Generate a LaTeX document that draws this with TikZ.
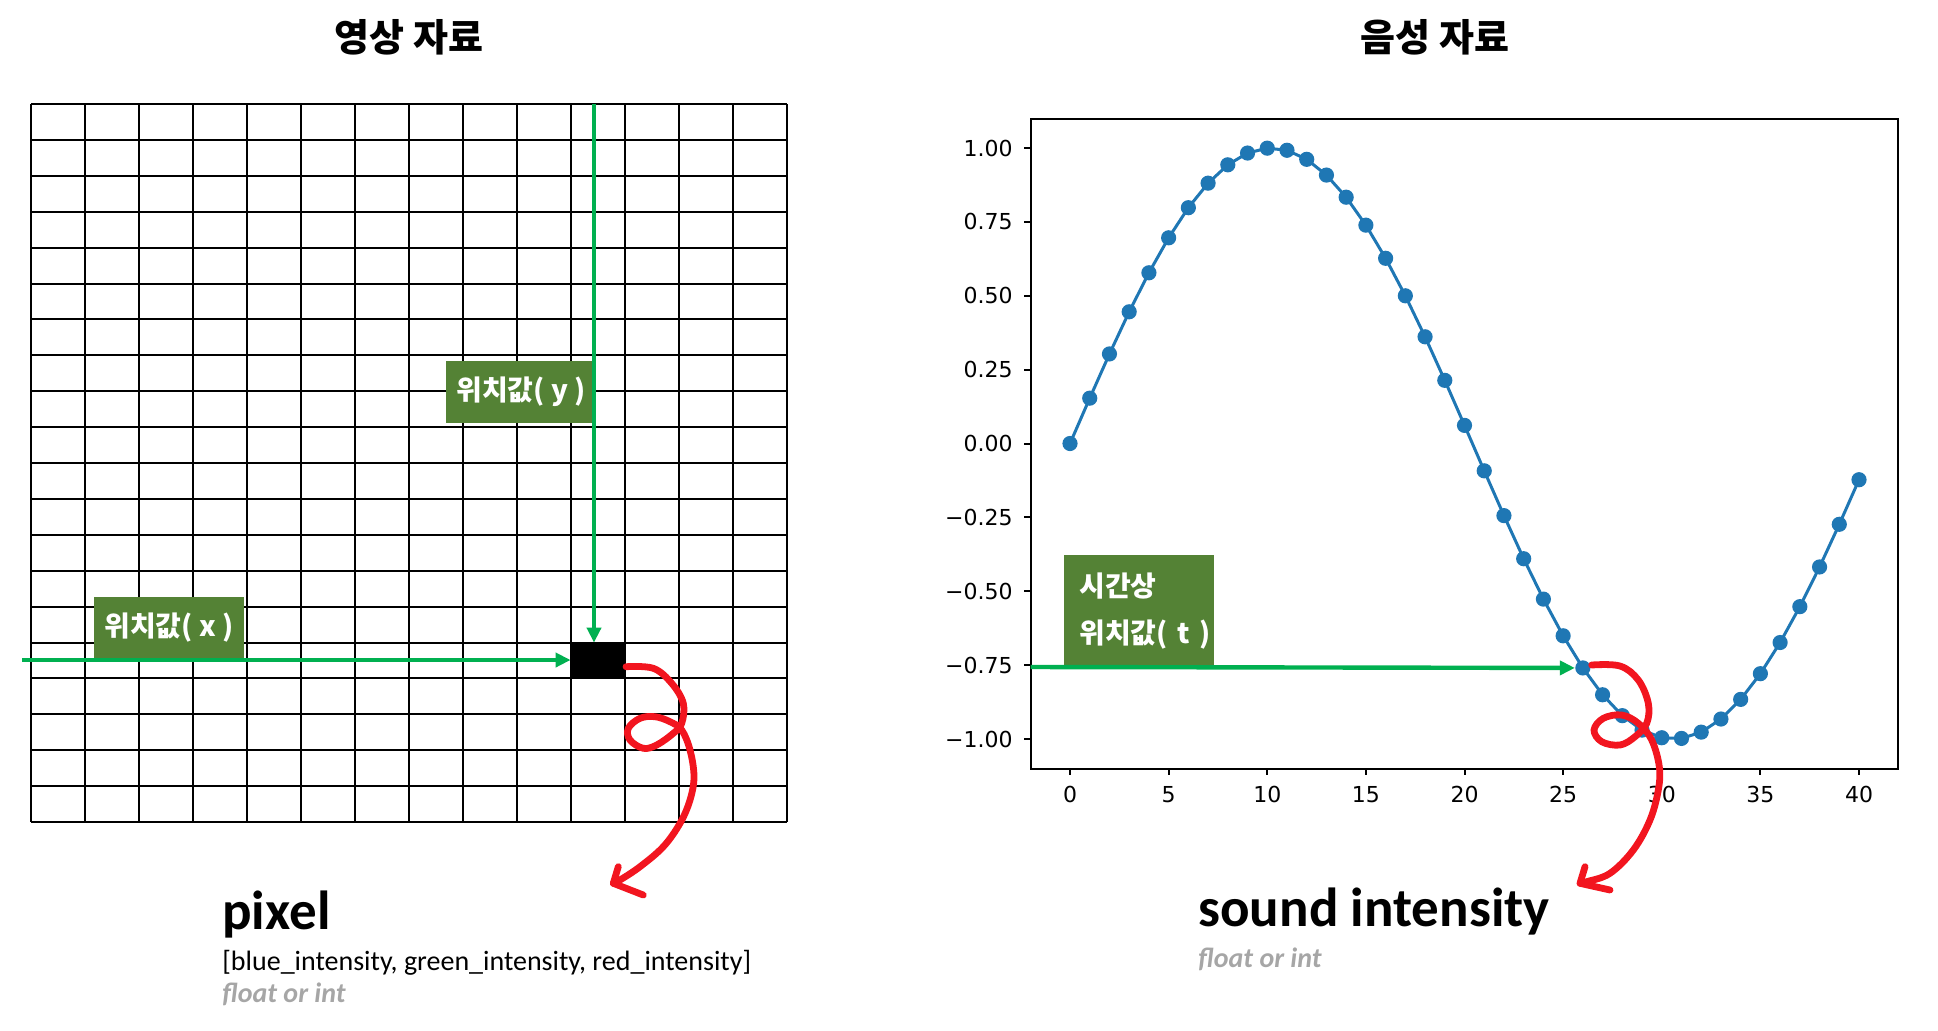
\documentclass[tikz,border=0pt]{standalone}
\usepackage{fontspec}
\setmainfont{Carlito}
\newfontfamily\kr{Noto Sans CJK KR}
\newfontfamily\tickfont{DejaVu Sans}
\usetikzlibrary{arrows.meta}
\definecolor{boxgreen}{HTML}{548235}
\definecolor{arrowgreen}{HTML}{00B050}
\definecolor{mplblue}{HTML}{1F77B4}
\definecolor{pengray}{HTML}{A6A6A6}
\definecolor{penred}{HTML}{F2151F}
\tikzset{
 lbl/.style={fill=boxgreen, text=white, inner sep=0pt, font=\kr\bfseries\fontsize{14}{23.5}\selectfont},
 grn/.style={draw=arrowgreen, line width=2.2pt, -{Triangle[length=7.5pt,width=7pt]}},
 pen/.style={draw=penred, line width=3.4pt, line cap=round, line join=round},
 ttl/.style={font=\kr\bfseries\fontsize{19}{19}\selectfont},
 ticklbl/.style={inner sep=0pt, font=\tickfont\fontsize{11}{11}\selectfont}
}
\begin{document}
\begin{tikzpicture}[x=0.5pt, y=-0.5pt]
 \useasboundingbox (0,0) rectangle (1938,1030);
 \node[ttl] (imgtitle) at (409,37) {영상 자료};
 \node[ttl] (sndtitle) at (1435,37) {음성 자료};
 \foreach \i in {0,...,14}
  \draw[line width=1pt] ({31+54*\i},104) -- ({31+54*\i},822);
 \foreach \j in {0,...,20}
  \draw[line width=1pt] (31,{104+35.9*\j}) -- (787,{104+35.9*\j});
 \node[fill=black, inner sep=0pt, minimum width=27pt, minimum height=18pt] (pix) at (598,661) {};
 \node[lbl, minimum width=75pt, minimum height=31pt] (ylbl) at (521,392) {위치값( y )};
 \node[lbl, minimum width=75pt, minimum height=31pt] (xlbl) at (169,628) {위치값( x )};
 \coordinate (ystart) at (594,104);
 \coordinate (xstart) at (22,660);
 \draw[grn] (ystart) -- (ystart |- pix.north);
 \draw[grn] (xstart) -- (xstart -| pix.west);
 \draw[pen] plot[smooth, tension=0.6] coordinates {(626,666.7) (653.3,668.3) (671.7,683.3) (683.3,703.3) (681.7,723.3) (673.3,733.3) (656.7,745) (643.3,748.3) (630,740) (628.3,728.3) (640,718.3) (655,716.7) (670,721.7) (681.7,730) (690,750) (694,776.7) (690,800) (680,823.3) (663.3,846.7) (640,866.7) (620,880) (613.3,883.3)};
 \draw[pen] (618.3,866.7) -- (613.3,883.3) -- (643.3,895);
 \node[anchor=base west, inner sep=0pt, font=\bfseries\fontsize{27.5}{30}\selectfont] (pixname) at (222,929) {pixel};
 \node[anchor=base west, inner sep=0pt, font=\fontsize{14}{16}\selectfont] (pixval) at (222,970) {[blue\_intensity, green\_intensity, red\_intensity]};
 \node[anchor=base west, inner sep=0pt, text=pengray, font=\bfseries\itshape\fontsize{14}{16}\selectfont] (pixtype) at (222,1002) {float or int};
 \draw[line width=1pt] (1030.5,118.5) rectangle (1898,768.5);
 \foreach \v/\s in {1/1.00, 0.75/0.75, 0.5/0.50, 0.25/0.25, 0/0.00, -0.25/−0.25, -0.5/−0.50, -0.75/−0.75, -1/−1.00} {
  \draw[line width=1pt] (1030.5,{443.5-295.5*\v}) -- (1024,{443.5-295.5*\v});
  \node[ticklbl, anchor=east] at (1013,{443.5-295.5*\v}) {\s};
 }
 \foreach \t in {0,5,...,40} {
  \draw[line width=1pt] ({1070+19.725*\t},768.5) -- ({1070+19.725*\t},775);
  \node[ticklbl, anchor=north] at ({1070+19.725*\t},786) {\t};
 }
 \draw[mplblue, line width=1.5pt] plot[domain=0:40, samples=41] ({1070+19.725*\x},{443.5-295.5*sin(0.154*\x r)});
 \foreach \i in {0,...,40}
  \fill[mplblue] ({1070+19.725*\i},{443.5-295.5*sin(0.154*\i r)}) circle[radius=3.8pt];
 \node[circle, inner sep=0pt, minimum size=7.6pt] (p26) at ({1070+19.725*26},{443.5-295.5*sin(0.154*26 r)}) {};
 \node[lbl, anchor=south west, text width=67.5pt, minimum width=75pt, minimum height=56pt, align=left] (tlbl) at (1064,667) {\hspace*{3.75pt}\mbox{시간상}\\\hspace*{3.75pt}\mbox{위치값( t )}};
 \coordinate (tstart) at (1030.5,667);
 \draw[grn] (tstart) -- (p26.west);
 \draw[pen] plot[smooth, tension=0.6] coordinates {(1591.7,665) (1620,666) (1638.3,680) (1648.3,703.3) (1646.7,723.3) (1635,736.7) (1620,745) (1601.7,741.7) (1594,730) (1603.3,718.3) (1621.7,715) (1638.3,723.3) (1651.7,740) (1659.3,766.7) (1658.3,790) (1650,820) (1633.3,850) (1610,873.3) (1586.7,881.7) (1580,883.3)};
 \draw[pen] (1585,866.7) -- (1580,883.3) -- (1610,890);
 \node[anchor=base west, inner sep=0pt, font=\bfseries\fontsize{27.5}{30}\selectfont] (sndname) at (1198,926) {sound intensity};
 \node[anchor=base west, inner sep=0pt, text=pengray, font=\bfseries\itshape\fontsize{14}{16}\selectfont] (sndtype) at (1198,967) {float or int};
\end{tikzpicture}
\end{document}
